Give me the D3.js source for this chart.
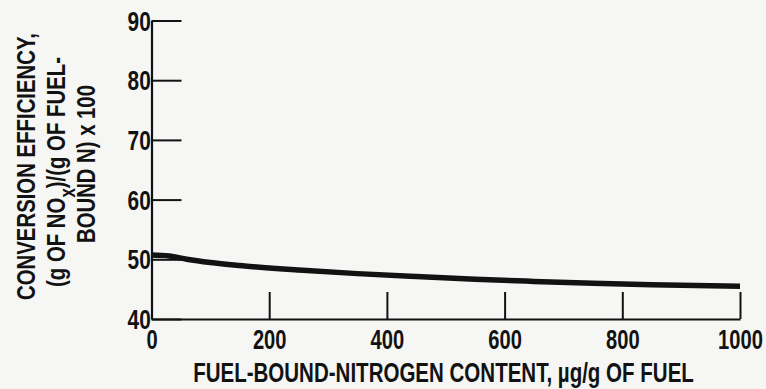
<!DOCTYPE html>
<html>
<head>
<meta charset="utf-8">
<script src="https://cdn.jsdelivr.net/npm/d3@7"></script>
<style>
  html, body { margin: 0; padding: 0; background: #f6f6f4; }
  svg { display: block; }
  text { font-family: "Liberation Sans Narrow", "Liberation Sans", Arial, sans-serif; font-weight: bold; fill: #121212; }
</style>
</head>
<body>
<svg id="chart" width="766" height="389"></svg>
<script>
// Data
const nitrogenContent = [0, 30, 60, 100, 150, 250, 350, 450, 550, 650, 750, 850, 1000];
const conversionEfficiency = [50.7, 50.55, 50.0, 49.45, 48.95, 48.2, 47.6, 47.1, 46.65, 46.3, 46.0, 45.75, 45.5];
const xTickValues = [0, 200, 400, 600, 800, 1000];
const yTickValues = [40, 50, 60, 70, 80, 90];
const xTitle = "FUEL-BOUND-NITROGEN CONTENT, \u00b5g/g OF FUEL";

const svg = d3.select("#chart");
const ink = "#121212";

const x = d3.scaleLinear().domain([0, 1000]).range([151.5, 740]);
const y = d3.scaleLinear().domain([40, 90]).range([319, 20.5]);

// horizontally condense a text element to a target width
function condense(node, target, pre) {
  const w = node.getComputedTextLength();
  const sx = target / w;
  d3.select(node).attr("transform", (pre || "") + ` scale(${sx},1)`);
}

// Y axis (ticks pointing into the plot)
const yAxis = svg.append("g")
  .attr("transform", `translate(${x(0)},0)`)
  .call(d3.axisLeft(y).tickValues(yTickValues).tickSizeInner(-30).tickSizeOuter(0).tickPadding(1).tickFormat(d3.format("d")));
yAxis.attr("font-family", null).attr("font-size", null);
yAxis.select(".domain").attr("stroke", ink).attr("stroke-width", 2.2);
yAxis.selectAll(".tick line").attr("stroke", ink).attr("stroke-width", 2);
yAxis.selectAll(".tick text").attr("font-size", 27).attr("dy", 9.5).attr("fill", ink)
  .each(function() { condense(this, this.textContent.length * 11.6); });

// X axis (ticks pointing up)
const xAxis = svg.append("g")
  .attr("transform", `translate(0,${y(40)})`)
  .call(d3.axisBottom(x).tickValues(xTickValues).tickSizeInner(-27).tickSizeOuter(0).tickPadding(11).tickFormat(d3.format("d")));
xAxis.attr("font-family", null).attr("font-size", null);
xAxis.select(".domain").attr("stroke", ink).attr("stroke-width", 2.2);
xAxis.selectAll(".tick line").attr("stroke", ink).attr("stroke-width", 2);
xAxis.selectAll(".tick text").attr("font-size", 27).attr("fill", ink)
  .each(function() { condense(this, this.textContent.length * 11.2); });

// Curve
const line = d3.line()
  .x((d, i) => x(nitrogenContent[i]))
  .y(d => y(d))
  .curve(d3.curveMonotoneX);
svg.append("path")
  .datum(conversionEfficiency)
  .attr("fill", "none")
  .attr("stroke", ink)
  .attr("stroke-width", 5.5)
  .attr("stroke-linecap", "butt")
  .attr("d", line);

// X title
const xt = svg.append("text")
  .attr("text-anchor", "middle")
  .attr("font-size", 27)
  .text(xTitle);
condense(xt.node(), 501, "translate(443.5,382)");

// Y title (rotated, three lines)
const yTitle = svg.append("g");
const l1 = yTitle.append("text")
  .attr("text-anchor", "middle")
  .attr("font-size", 26.5)
  .text("CONVERSION EFFICIENCY,");
condense(l1.node(), 267, "translate(34.5,166.5) rotate(-90)");
const l2 = yTitle.append("text")
  .attr("text-anchor", "middle")
  .attr("font-size", 26.5);
l2.append("tspan").text("(g OF NO");
l2.append("tspan").attr("font-size", 22).attr("dy", 10).text("x");
l2.append("tspan").attr("dy", -10).text(")/(g OF FUEL-");
condense(l2.node(), 230, "translate(64.5,172) rotate(-90)");
const l3 = yTitle.append("text")
  .attr("text-anchor", "middle")
  .attr("font-size", 26.5)
  .text("BOUND N) x 100");
condense(l3.node(), 158, "translate(95,164) rotate(-90)");
</script>
</body>
</html>
